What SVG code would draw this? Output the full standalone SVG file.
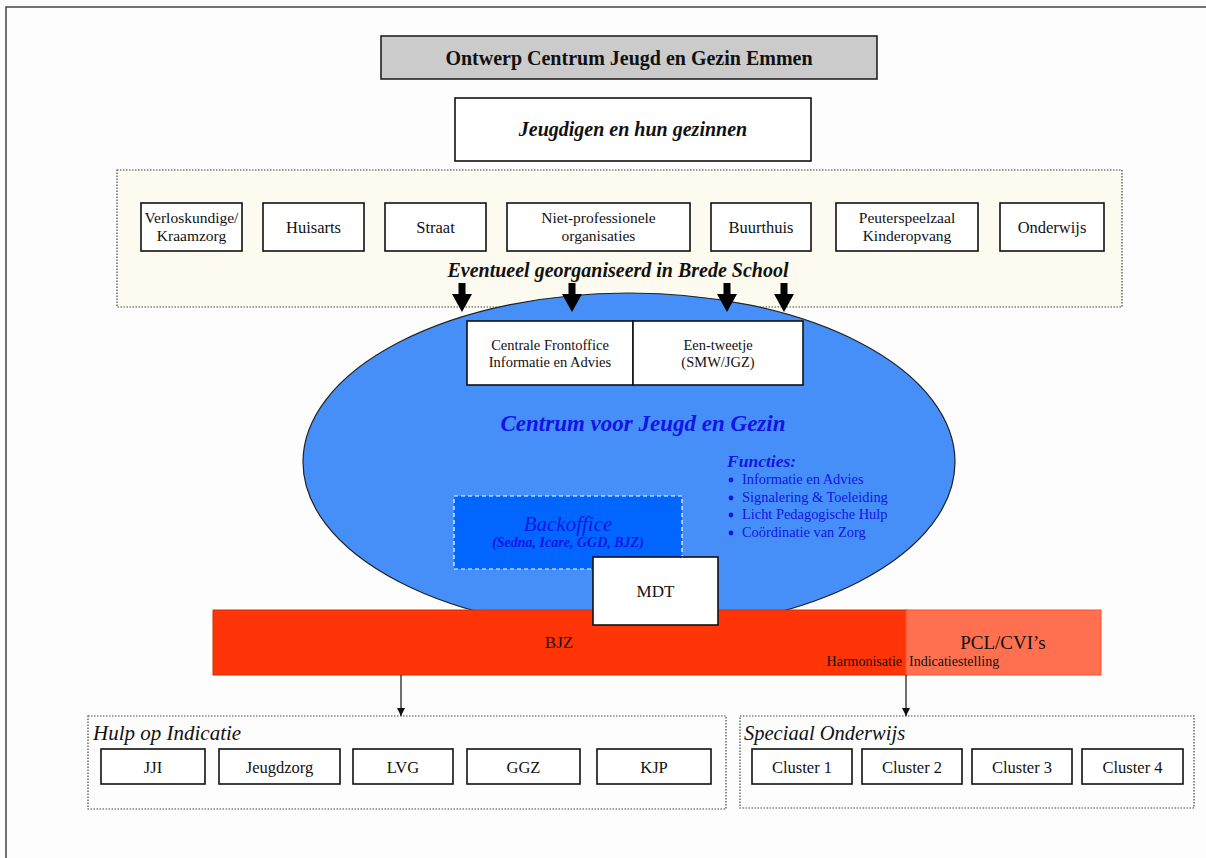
<svg xmlns="http://www.w3.org/2000/svg" width="1206" height="858" viewBox="0 0 1206 858" font-family="'Liberation Serif','Times New Roman',serif">
<defs>
<style>
text{font-family:"Liberation Serif","Times New Roman",serif;fill:#111;text-anchor:middle}
.box{fill:#fff;stroke:#111;stroke-width:1.6}
.dot{stroke:#444;stroke-width:1.2;stroke-dasharray:1.5 1.5}
.blue{fill:#1414e6}
.big{font-size:16.5px}
.mid{font-size:15.5px}
.sm{font-size:14.5px}
</style>
<marker id="ah" viewBox="0 0 10 10" refX="10" refY="5" markerWidth="8" markerHeight="8" markerUnits="userSpaceOnUse" orient="auto"><path d="M0,0 L10,5 L0,10 z" fill="#111"/></marker>
<path id="thick" d="M-3.5,0 H3.5 V11 H10 L0,29 L-10,11 H-3.5 z" fill="#000"/>
</defs>
<rect width="1206" height="858" fill="#fdfdfd"/>
<path d="M6,858 V7 H1206" fill="none" stroke="#444" stroke-width="1.5"/>

<g id="title"><rect x="381" y="36" width="496" height="43" fill="#cbcbcb" stroke="#222" stroke-width="1.6"/><text x="629" y="65" font-size="20" font-weight="bold">Ontwerp Centrum Jeugd en Gezin Emmen</text></g>

<g id="jeugdigen"><rect class="box" x="455" y="98" width="356" height="63"/><text x="633" y="136" font-size="20" font-weight="bold" font-style="italic">Jeugdigen en hun gezinnen</text></g>

<g id="omgeving">
<rect class="dot" x="117" y="170" width="1005" height="137" fill="#fdfbef"/>
<text x="618" y="277" font-size="20" font-weight="bold" font-style="italic">Eventueel georganiseerd in Brede School</text>
</g>
<g id="verloskundige"><rect class="box" x="141" y="203" width="101" height="48"/><text x="191.5" y="223" font-size="15.5">Verloskundige/</text><text x="191.5" y="241" font-size="15.5">Kraamzorg</text></g>
<g id="huisarts"><rect class="box" x="263" y="203" width="101" height="48"/><text class="big" x="313.5" y="233">Huisarts</text></g>
<g id="straat"><rect class="box" x="385" y="203" width="101" height="48"/><text class="big" x="435.5" y="233">Straat</text></g>
<g id="nietprof"><rect class="box" x="507" y="203" width="183" height="48"/><text class="mid" x="598.5" y="223">Niet-professionele</text><text class="mid" x="598.5" y="241">organisaties</text></g>
<g id="buurthuis"><rect class="box" x="711" y="203" width="100" height="48"/><text class="big" x="761" y="233">Buurthuis</text></g>
<g id="peuterspeelzaal"><rect class="box" x="836" y="203" width="142" height="48"/><text class="mid" x="907" y="223">Peuterspeelzaal</text><text class="mid" x="907" y="241">Kinderopvang</text></g>
<g id="onderwijs"><rect class="box" x="1000" y="203" width="104" height="48"/><text class="big" x="1052" y="233">Onderwijs</text></g>

<g id="cjg">
<ellipse cx="629" cy="462" rx="326" ry="169" fill="#468ff8" stroke="#222" stroke-width="1.2"/>
<text x="643" y="431" font-size="23" font-weight="bold" font-style="italic" class="blue">Centrum voor Jeugd en Gezin</text>
<text x="727" y="467" font-size="17.5" font-weight="bold" font-style="italic" class="blue" style="text-anchor:start">Functies:</text>
<g class="blue">
<circle cx="731" cy="480" r="2.4"/><circle cx="731" cy="498" r="2.4"/><circle cx="731" cy="515" r="2.4"/><circle cx="731" cy="533" r="2.4"/>
<text x="742" y="484" font-size="14.4" class="blue" style="text-anchor:start">Informatie en Advies</text>
<text x="742" y="502" font-size="14.4" class="blue" style="text-anchor:start">Signalering &amp; Toeleiding</text>
<text x="742" y="519" font-size="14.4" class="blue" style="text-anchor:start">Licht Pedagogische Hulp</text>
<text x="742" y="537" font-size="14.4" class="blue" style="text-anchor:start">Coördinatie van Zorg</text>
</g>
</g>

<g id="frontoffice"><rect class="box" x="467" y="321" width="166" height="64"/><text class="sm" x="550" y="350">Centrale Frontoffice</text><text class="sm" x="550" y="367">Informatie en Advies</text></g>
<g id="eentweetje"><rect class="box" x="633" y="321" width="170" height="64"/><text class="sm" x="718" y="350">Een-tweetje</text><text class="sm" x="718" y="367">(SMW/JGZ)</text></g>

<g id="backoffice"><rect x="454" y="496" width="228" height="73" fill="#0066ff" stroke="#fff" stroke-width="1.2" stroke-dasharray="4 3"/><text x="568" y="531" font-size="21" font-style="italic" class="blue">Backoffice</text><text x="568" y="547" font-size="14" font-weight="bold" font-style="italic" class="blue">(Sedna, Icare, GGD, BJZ)</text></g>

<g id="bjz"><rect x="213" y="610" width="694" height="65" fill="#ff3508" stroke="#cc3300" stroke-width="1"/><text x="559" y="648" font-size="17">BJZ</text></g>
<g id="pcl"><rect x="906" y="610" width="195" height="65" fill="#ff7050" stroke="#ff5030" stroke-width="1"/><text x="1003" y="649" font-size="19">PCL/CVI’s</text></g>
<g id="harmonisatie"><text x="902" y="666" font-size="14" style="text-anchor:end">Harmonisatie</text><text x="909" y="666" font-size="14" style="text-anchor:start">Indicatiestelling</text></g>

<g id="mdt"><rect class="box" x="593" y="557" width="125" height="68"/><text x="655.5" y="597" font-size="17">MDT</text></g>

<g id="hulp">
<rect class="dot" x="88" y="716" width="638" height="93" fill="#fdfdfd"/>
<text x="93" y="740" font-size="21" font-style="italic" style="text-anchor:start">Hulp op Indicatie</text>
</g>
<g id="jji"><rect class="box" x="101" y="749" width="104" height="35"/><text class="big" x="153" y="773">JJI</text></g>
<g id="jeugdzorg"><rect class="box" x="219" y="749" width="121" height="35"/><text class="big" x="279.5" y="773">Jeugdzorg</text></g>
<g id="lvg"><rect class="box" x="353" y="749" width="100" height="35"/><text class="big" x="403" y="773">LVG</text></g>
<g id="ggz"><rect class="box" x="467" y="749" width="113" height="35"/><text class="big" x="523.5" y="773">GGZ</text></g>
<g id="kjp"><rect class="box" x="597" y="749" width="114" height="35"/><text class="big" x="654" y="773">KJP</text></g>

<g id="speciaal">
<rect class="dot" x="740" y="716" width="454" height="92" fill="#fdfdfd"/>
<text x="744" y="740" font-size="20.5" font-style="italic" style="text-anchor:start">Speciaal Onderwijs</text>
</g>
<g id="cluster1"><rect class="box" x="752" y="749" width="100" height="35"/><text class="big" x="802" y="773">Cluster 1</text></g>
<g id="cluster2"><rect class="box" x="862" y="749" width="100" height="35"/><text class="big" x="912" y="773">Cluster 2</text></g>
<g id="cluster3"><rect class="box" x="972" y="749" width="100" height="35"/><text class="big" x="1022" y="773">Cluster 3</text></g>
<g id="cluster4"><rect class="box" x="1082" y="749" width="101" height="35"/><text class="big" x="1132.5" y="773">Cluster 4</text></g>

<g id="connectors">
<use href="#thick" x="462" y="283"/>
<use href="#thick" x="572" y="283"/>
<use href="#thick" x="727" y="283"/>
<use href="#thick" x="784" y="283"/>
<line x1="401" y1="675" x2="401" y2="716" stroke="#111" stroke-width="1.2" marker-end="url(#ah)"/>
<line x1="906" y1="675" x2="906" y2="716" stroke="#111" stroke-width="1.2" marker-end="url(#ah)"/>
</g>
</svg>
